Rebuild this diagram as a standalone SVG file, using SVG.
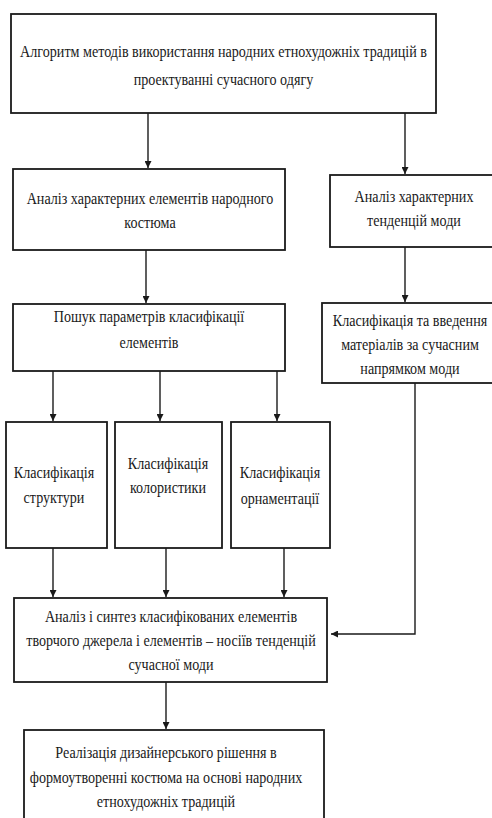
<svg xmlns="http://www.w3.org/2000/svg" width="492" height="818" viewBox="0 0 492 818">
<style>
.box{fill:#fff;stroke:#1a1a1a;stroke-width:1.8}
.t{font-family:"Liberation Serif","DejaVu Serif",serif;font-size:17px;fill:#1a1a1a;text-anchor:middle}
.c{fill:none;stroke:#1a1a1a;stroke-width:1.4}
</style>
<defs>
<marker id="ah" viewBox="0 0 10 10" refX="10" refY="5" markerWidth="7" markerHeight="7" markerUnits="userSpaceOnUse" orient="auto">
<path d="M0,0 L10,5 L0,10 z" fill="#1a1a1a"/>
</marker>
</defs>
<rect width="492" height="818" fill="#fff"/>
<g id="connectors">
<line class="c" x1="148" y1="113" x2="148" y2="168" marker-end="url(#ah)"/>
<line class="c" x1="405" y1="113" x2="405" y2="174" marker-end="url(#ah)"/>
<line class="c" x1="146" y1="250" x2="146" y2="303" marker-end="url(#ah)"/>
<line class="c" x1="405" y1="247" x2="405" y2="302" marker-end="url(#ah)"/>
<line class="c" x1="53" y1="371" x2="53" y2="421" marker-end="url(#ah)"/>
<line class="c" x1="160" y1="371" x2="160" y2="421" marker-end="url(#ah)"/>
<line class="c" x1="277" y1="371" x2="277" y2="421" marker-end="url(#ah)"/>
<line class="c" x1="53" y1="548" x2="53" y2="597" marker-end="url(#ah)"/>
<line class="c" x1="166" y1="548" x2="166" y2="597" marker-end="url(#ah)"/>
<line class="c" x1="284" y1="548" x2="284" y2="597" marker-end="url(#ah)"/>
<polyline class="c" points="415,383 415,634 331,634" marker-end="url(#ah)"/>
<line class="c" x1="166" y1="682" x2="166" y2="729" marker-end="url(#ah)"/>
</g>
<g id="n1">
<rect class="box" x="11" y="14" width="425" height="99"/>
<g transform="translate(223.5,0) scale(0.83,1)"><text class="t" x="0" y="57">Алгоритм методів використання народних етнохудожніх  традицій в</text><text class="t" x="0" y="85">проектуванні сучасного одягу</text></g>
</g>
<g id="n2">
<rect class="box" x="13" y="169" width="272" height="81"/>
<g transform="translate(150,0) scale(0.83,1)"><text class="t" x="0" y="204">Аналіз характерних елементів народного</text><text class="t" x="0" y="228">костюма</text></g>
</g>
<g id="n3">
<rect class="box" x="330" y="175" width="166" height="72"/>
<g transform="translate(414,0) scale(0.83,1)"><text class="t" x="0" y="202">Аналіз характерних</text><text class="t" x="0" y="226">тенденцій моди</text></g>
</g>
<g id="n4">
<rect class="box" x="13" y="304" width="272" height="67"/>
<g transform="translate(149,0) scale(0.83,1)"><text class="t" x="0" y="322">Пошук параметрів класифікації</text><text class="t" x="0" y="348">елементів</text></g>
</g>
<g id="n5">
<rect class="box" x="322" y="303" width="174" height="80"/>
<g transform="translate(410,0) scale(0.83,1)"><text class="t" x="0" y="326">Класифікація та введення</text><text class="t" x="0" y="350">матеріалів за сучасним</text><text class="t" x="0" y="374">напрямком моди</text></g>
</g>
<g id="n6">
<rect class="box" x="6" y="422" width="101" height="126"/>
<g transform="translate(54,0) scale(0.83,1)"><text class="t" x="0" y="478">Класифікація</text><text class="t" x="0" y="503">структури</text></g>
</g>
<g id="n7">
<rect class="box" x="115" y="422" width="107" height="126"/>
<g transform="translate(168,0) scale(0.83,1)"><text class="t" x="0" y="469">Класифікація</text><text class="t" x="0" y="493">колористики</text></g>
</g>
<g id="n8">
<rect class="box" x="231" y="422" width="99" height="126"/>
<g transform="translate(280,0) scale(0.83,1)"><text class="t" x="0" y="478">Класифікація</text><text class="t" x="0" y="504">орнаментації</text></g>
</g>
<g id="n9">
<rect class="box" x="14" y="598" width="313" height="84"/>
<g transform="translate(171,0) scale(0.83,1)"><text class="t" x="0" y="622">Аналіз і синтез класифікованих елементів</text><text class="t" x="0" y="646">творчого джерела  і елементів – носіїв тенденцій</text><text class="t" x="0" y="670">сучасної моди</text></g>
</g>
<g id="n10">
<rect class="box" x="24" y="730" width="300" height="95"/>
<g transform="translate(166,0) scale(0.83,1)"><text class="t" x="0" y="758">Реалізація дизайнерського рішення в</text><text class="t" x="0" y="783">формоутворенні костюма на основі народних</text><text class="t" x="0" y="807">етнохудожніх традицій</text></g>
</g>
</svg>
